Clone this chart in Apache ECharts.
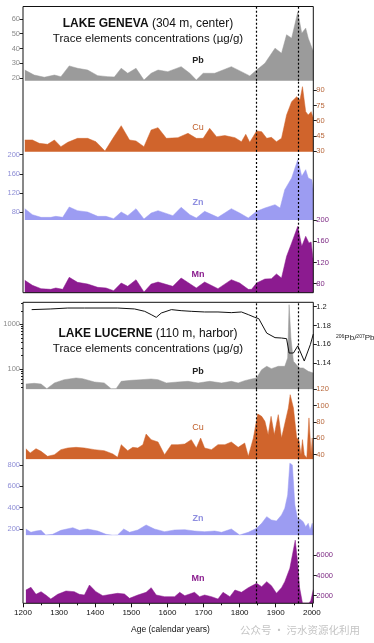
<!DOCTYPE html>
<html><head><meta charset="utf-8">
<script src="https://cdn.jsdelivr.net/npm/echarts@6/dist/echarts.min.js"></script>
<style>html,body{margin:0;padding:0;background:#fff;}#c{width:374px;height:643px;}</style>
</head><body><div id="c"></div>
<script>
// ---------- data ----------
const xTicks = [1200,1300,1400,1500,1600,1700,1800,1900,2000];
const xMinorTicks = [1250,1350,1450,1550,1650,1750,1850,1950];
const markerYears = [1845, 1961];

const genevaPb = [[1205,25.4],[1231,22],[1259,20.5],[1287,22],[1305,20.9],[1328,28.2],[1351,26.6],[1379,25.4],[1407,21.6],[1435,20.9],[1453,20.7],[1472,26.6],[1490,23.2],[1513,26.6],[1535,18.6],[1555,23.2],[1574,25.4],[1601,24.3],[1638,27.7],[1662,23.2],[1680,18.6],[1699,23.2],[1731,23.2],[1777,27.7],[1805,24.3],[1828,21.4],[1847,25.4],[1870,30],[1898,40.2],[1916,36.8],[1930,49.3],[1944,47],[1961,64.7],[1972,50.4],[1983,53.8],[1990,47],[2004,37.9]];
const genevaCu = [[1205,40.9],[1226,40.9],[1245,37.6],[1268,36.6],[1287,40.9],[1305,34.3],[1324,38.6],[1351,42.5],[1379,42.5],[1402,39.2],[1427,30],[1449,42.5],[1472,55],[1495,40.9],[1513,39.9],[1535,34.3],[1555,50.8],[1574,53.1],[1597,42.5],[1629,43.2],[1657,47.5],[1680,42.5],[1699,42.5],[1717,52.4],[1736,44.2],[1759,45.2],[1787,43.2],[1805,39.2],[1817,46.5],[1828,38.6],[1847,49.8],[1861,49.1],[1875,42.5],[1888,43.5],[1902,39.2],[1916,42.5],[1930,65.6],[1944,78.8],[1958,83.7],[1967,80.4],[1974,93.6],[1983,68.9],[1990,65.6],[1998,68.9],[2004,62.3]];
const genevaZn = [[1205,87],[1226,74.4],[1250,68.8],[1277,68.8],[1291,70.9],[1310,68.8],[1328,90.5],[1351,82.8],[1379,80],[1407,70.9],[1430,70.9],[1451,66],[1472,80],[1490,72.3],[1513,87],[1535,65.3],[1555,77.9],[1574,82.8],[1615,72.3],[1638,89.8],[1662,74.4],[1680,67.4],[1703,81.4],[1740,68.8],[1777,87],[1800,77.9],[1824,67.4],[1847,81.4],[1870,88.4],[1898,95.4],[1912,88.4],[1925,126.8],[1944,151.2],[1961,189.6],[1972,154.7],[1983,168.7],[1990,151.2],[2000,147.7],[2004,123.3]];
const genevaMn = [[1205,86.4],[1226,76.9],[1250,70.6],[1277,69.3],[1291,71.9],[1310,69.3],[1328,92.1],[1351,82.6],[1379,79.4],[1407,73.1],[1430,71.9],[1451,66.8],[1472,81.3],[1490,75],[1513,87.6],[1535,64.3],[1555,79.4],[1574,83.2],[1615,75],[1638,90.8],[1680,71.9],[1703,83.2],[1740,70.6],[1777,87.6],[1800,81.3],[1824,69.3],[1833,69.3],[1847,81.3],[1870,88.9],[1888,89.5],[1902,98.4],[1916,90.8],[1930,131.8],[1944,157.1],[1961,188.7],[1972,150.8],[1983,169.7],[1992,157.1],[1998,159],[2004,122.4]];

const lucernePb = [[1208,47],[1231,48.8],[1250,47],[1266,37.1],[1287,49.6],[1314,58.8],[1347,64.1],[1365,61.9],[1398,52.2],[1425,49.6],[1444,37.1],[1458,37.1],[1472,54],[1500,56.9],[1527,58.8],[1555,60.9],[1574,58.8],[1597,49.6],[1629,52.2],[1657,54],[1685,49.6],[1717,54],[1750,49.6],[1777,54],[1796,49.6],[1814,55.9],[1833,60.9],[1847,64.1],[1861,98],[1875,116.4],[1888,103.3],[1907,116.4],[1925,116.4],[1933,178],[1937,2730],[1942,496],[1949,150],[1961,116.4],[1967,107],[1976,107],[1990,90],[2004,82.8]];
const lucerneRatio = [[1224,1.1969],[1277,1.1976],[1324,1.1986],[1370,1.1986],[1416,1.1986],[1462,1.1986],[1509,1.1976],[1537,1.1951],[1555,1.1916],[1569,1.1887],[1583,1.1933],[1611,1.1969],[1638,1.1958],[1666,1.1951],[1703,1.1944],[1740,1.1944],[1777,1.1937],[1805,1.1944],[1824,1.1916],[1842,1.1887],[1853,1.1873],[1875,1.172],[1898,1.1672],[1916,1.1668],[1930,1.1661],[1937,1.1509],[1949,1.1509],[1961,1.1585],[1979,1.1424],[1996,1.16],[2004,1.171]];
const lucerneCu = [[1208,47.4],[1220,42.1],[1236,47.4],[1250,44.1],[1268,38],[1287,40],[1305,46.2],[1324,48.2],[1347,49],[1370,48.2],[1398,46.2],[1425,44.9],[1449,40.9],[1462,36.8],[1472,52.3],[1490,44.9],[1504,49],[1518,48.2],[1532,52.3],[1541,65.3],[1555,58.4],[1574,55.5],[1592,40],[1611,52.3],[1629,52.3],[1648,53.1],[1666,58.4],[1680,48.2],[1692,60.4],[1703,48.2],[1722,46.2],[1740,52.3],[1759,52.3],[1777,55.5],[1796,49],[1814,54.3],[1824,38],[1838,60.4],[1850,89.8],[1861,86.9],[1870,80.8],[1879,64.5],[1887,86.9],[1896,64.5],[1907,89],[1916,60.4],[1935,97.1],[1940,113.4],[1949,97.1],[1958,60.4],[1964,58.4],[1970,40],[1974,58.4],[1979,40],[1986,36],[1992,85],[1998,40],[2001,60.4],[2004,38]];
const lucerneZn = [[1208,200],[1222,169],[1236,181],[1250,187.5],[1263,144],[1282,150],[1305,187.5],[1338,212.5],[1356,187.5],[1379,200],[1407,181],[1430,150],[1449,142],[1462,144],[1479,200],[1495,169],[1518,190.6],[1541,237.6],[1564,200],[1592,175],[1620,190.6],[1648,193.7],[1675,181],[1703,175],[1731,181],[1750,169],[1777,200],[1800,144],[1824,169],[1847,206.3],[1861,253],[1875,315.8],[1888,284.5],[1902,275],[1916,331.5],[1925,394],[1933,519],[1939,816.6],[1946,801],[1953,425],[1961,284.5],[1967,294],[1976,268.8],[1983,221.9],[1990,253],[1995,190.6],[2001,253],[2004,175]];
const lucerneMn = [[1208,2564],[1222,2829],[1236,2136],[1250,2399],[1263,2069],[1277,1673],[1296,2136],[1319,2465],[1342,2399],[1356,2136],[1370,2069],[1384,3059],[1402,2399],[1421,2000],[1444,2136],[1462,2235],[1481,2168],[1495,1740],[1518,2069],[1541,2334],[1555,2795],[1569,2069],[1592,1904],[1620,1904],[1634,2334],[1648,2000],[1675,2334],[1689,1904],[1703,2069],[1722,1904],[1740,1673],[1754,2334],[1773,1904],[1787,2565],[1805,2334],[1824,2795],[1847,3225],[1861,2894],[1875,3389],[1888,2993],[1902,2235],[1916,2795],[1925,3389],[1939,4710],[1954,7500],[1960,5500],[1966,2800],[1974,1280],[1992,1280],[1997,1500],[2001,1400],[2004,2600]];

const genevaPbTicks = [20,30,40,50,60];
const genevaCuTicks = [30,45,60,75,90];
const genevaZnTicks = [80,120,160,200];
const genevaMnTicks = [80,120,160,200];
const lucernePbTicks = [100,1000];
const lucernePbMinorTicks = [40,50,60,70,80,90,200,300,400,500,600,700,800,900,2000,3000];
const lucerneRatioTicks = [1.14,1.16,1.18,1.2];
const lucerneCuTicks = [40,60,80,100,120];
const lucerneZnTicks = [200,400,600,800];
const lucerneMnTicks = [2000,4000,6000];

// ---------- layout / style ----------
const FONT = '"Liberation Sans", Arial, Helvetica, sans-serif';
const L = 23, W = 290.3;
const C = {pb:'#9b9b9b', cu:'#d0642c', zn:'#9c9cf2', mn:'#8c1b90'};
const LC = {pb:'#8a8a8a', cu:'#b8683c', zn:'#8e8ed6', mn:'#7d2a84'};
const plain = v => String(Math.round(v * 1000) / 1000);

const bands = [
  {top:6.5,   h:74.2, min:18.17, max:68.47, side:'left',  data:genevaPb, c:C.pb, lc:LC.pb, ticks:genevaPbTicks},
  {top:80.7,  h:71,   min:29.31, max:99.49, side:'right', data:genevaCu, c:C.cu, lc:LC.cu, ticks:genevaCuTicks},
  {top:151.7, h:68.3, min:63.25, max:206.28,side:'left',  data:genevaZn, c:C.zn, lc:LC.zn, ticks:genevaZnTicks},
  {top:220,   h:72.7, min:62.97, max:200.57,side:'right', data:genevaMn, c:C.mn, lc:LC.mn, ticks:genevaMnTicks},
  {top:302.3, h:87,   min:35.9,  max:3083,  side:'left',  data:lucernePb, c:C.pb, lc:LC.pb, ticks:lucernePbTicks, log:true},
  {top:389.3, h:70,   min:34.37, max:120,   side:'right', data:lucerneCu, c:C.cu, lc:LC.cu, ticks:lucerneCuTicks},
  {top:459.3, h:76,   min:140.9, max:853.4, side:'left',  data:lucerneZn, c:C.zn, lc:LC.zn, ticks:lucerneZnTicks},
  {top:535.3, h:68,   min:1247.5,max:7980,  side:'right', data:lucerneMn, c:C.mn, lc:LC.mn, ticks:lucerneMnTicks}
];

const grid = [], xAxis = [], yAxis = [], series = [];
const markLine = {
  symbol:'none', silent:true, animation:false, label:{show:false}, z:5,
  lineStyle:{color:'#000', type:[2,2], width:1.2},
  data: markerYears.map(y => ({xAxis:y}))
};
function xAx(gi, show){
  return {type:'value', gridIndex:gi, position:'bottom', min:1200, max:2004, show:show,
    axisLine:{show:false}, splitLine:{show:false},
    axisTick:{show:show, customValues:xTicks, length:4, lineStyle:{color:'#111'}},
    axisLabel:{show:show, customValues:xTicks, formatter:plain, color:'#111', fontSize:8, fontFamily:FONT, margin:5}};
}
bands.forEach((b, i) => {
  grid.push({left:L, width:W, top:b.top, height:b.h, show:false, outerBoundsMode:'none'});
  xAxis.push(xAx(i, i === 7));
  const yi = yAxis.length;
  yAxis.push({type: b.log ? 'log' : 'value', logBase:10, gridIndex:i, min:b.min, max:b.max, position:b.side,
    axisLine:{show:false}, splitLine:{show:false},
    axisTick:{show:true, customValues:b.ticks, length:3.5, lineStyle:{color:'#222'}},
    axisLabel:{customValues:b.ticks, formatter:plain, color:b.lc, fontSize:7.5, fontFamily:FONT, margin:3}});
  series.push({type:'line', xAxisIndex:i, yAxisIndex:yi, data:b.data, symbol:'none', z:2,
    lineStyle:{width:0.5, color:b.c}, areaStyle:{color:b.c, opacity:1, origin:'start'},
    animation:false, markLine:markLine});
});
// minor log ticks for Lucerne Pb
yAxis.push({type:'log', logBase:10, gridIndex:4, min:35.9, max:3083, position:'left',
  axisLine:{show:false}, splitLine:{show:false}, axisLabel:{show:false},
  axisTick:{show:true, customValues:lucernePbMinorTicks, length:2, lineStyle:{color:'#222'}}});
// ratio axis
const ratioAxis = yAxis.length;
yAxis.push({type:'value', gridIndex:4, min:1.11244, max:1.20466, position:'right',
  axisLine:{show:false}, splitLine:{show:false},
  axisTick:{show:true, customValues:lucerneRatioTicks, length:3.5, lineStyle:{color:'#222'}},
  axisLabel:{customValues:lucerneRatioTicks, formatter:plain, color:'#222', fontSize:7.5, fontFamily:FONT, margin:3}});
series.push({type:'line', xAxisIndex:4, yAxisIndex:ratioAxis, data:lucerneRatio, symbol:'none', z:4,
  lineStyle:{width:1, color:'#111'}, animation:false});
// minor x ticks (bottom of the lowest band)
xAxis.push({type:'value', gridIndex:7, position:'bottom', min:1200, max:2004, axisLine:{show:false}, splitLine:{show:false},
  axisLabel:{show:false}, axisTick:{show:true, customValues:xMinorTicks, length:2, lineStyle:{color:'#111'}}});
// frames
[[6.5, 286.2],[302.3, 301]].forEach(([t,h]) => {
  const gi = grid.length;
  grid.push({left:L, width:W, top:t, height:h, show:true, borderColor:'#111', borderWidth:1,
    backgroundColor:'transparent', z:6, outerBoundsMode:'none'});
  xAxis.push({type:'value', gridIndex:gi, show:false, min:0, max:1});
  yAxis.push({type:'value', gridIndex:gi, show:false, min:0, max:1});
});

function txt(x, y, text, size, color, weight, extra){
  return {type:'text', x:x, y:y, z:10, silent:true,
    style:Object.assign({text:text, fontSize:size, fill:color, fontWeight:weight||'normal', fontFamily:FONT,
      align:'center', verticalAlign:'middle'}, extra||{})};
}
const graphic = [
  txt(148, 24, '{b|LAKE GENEVA} (304 m, center)', 12, '#111', 'normal', {rich:{b:{fontWeight:'bold', fontSize:12, fontFamily:FONT, fill:'#111'}}}),
  txt(148, 38.5, 'Trace elements concentrations (µg/g)', 11.5, '#111'),
  txt(148, 333.5, '{b|LAKE LUCERNE} (110 m, harbor)', 12, '#111', 'normal', {rich:{b:{fontWeight:'bold', fontSize:12, fontFamily:FONT, fill:'#111'}}}),
  txt(148, 348.5, 'Trace elements concentrations (µg/g)', 11.5, '#111'),
  txt(198, 61, 'Pb', 9, '#222', 'bold'),
  txt(198, 128, 'Cu', 9, '#c0602c', 'normal'),
  txt(198, 203, 'Zn', 9, '#8f8fe0', 'bold'),
  txt(198, 275, 'Mn', 9, '#8a1c8e', 'bold'),
  txt(198, 372, 'Pb', 9, '#222', 'bold'),
  txt(198, 427.5, 'Cu', 9, '#c0602c', 'normal'),
  txt(198, 518.5, 'Zn', 9, '#8f8fe0', 'bold'),
  txt(198, 578.5, 'Mn', 9, '#8a1c8e', 'bold'),
  txt(336, 338, '{s|206}Pb/{s|207}Pb', 8, '#222', 'normal', {align:'left', rich:{s:{fontSize:5, verticalAlign:'top', fontFamily:FONT, fill:'#222'}}}),
  txt(170.5, 630, 'Age (calendar years)', 8.5, '#111'),
  txt(300, 630, '公众号 · 污水资源化利用', 10.5, '#c4c4c4', 'normal', {fontFamily:'"Noto Sans CJK SC", sans-serif'})
];

const chart = echarts.init(document.getElementById('c'), null, {renderer:'canvas'});
chart.setOption({animation:false, backgroundColor:'#fff', grid, xAxis, yAxis, series, graphic});
</script></body></html>
